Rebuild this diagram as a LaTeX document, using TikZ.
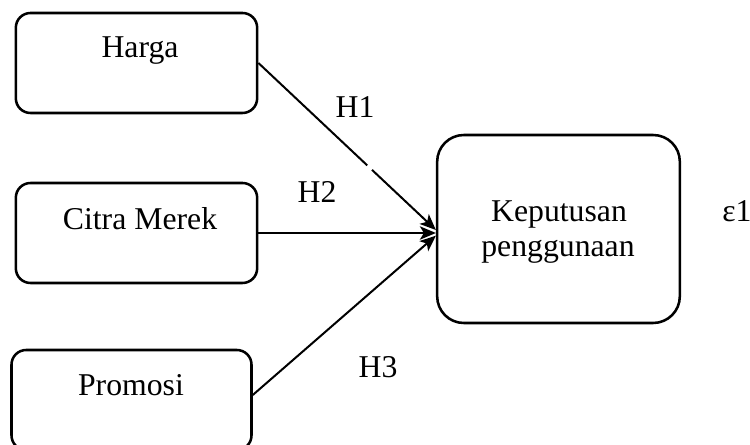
\documentclass[tikz,border=0pt]{standalone}
\usepackage{fontspec}
\setmainfont{Liberation Serif}
\usetikzlibrary{arrows.meta}
\begin{document}
\begin{tikzpicture}[x=0.75pt,y=-0.75pt,
  box/.style={draw=black,line width=1.9pt,rounded corners=11pt,inner sep=0pt},
  txt/.style={inner sep=0pt,anchor=base,font=\fontsize{23.8}{26}\selectfont},
  conn/.style={line width=1.5pt,-{Stealth[length=12pt,width=10pt,inset=3pt]}}]
\useasboundingbox (0,0) rectangle (750,445);
\node[box,minimum width=181pt,minimum height=75pt] (harga) at (136.5,63) {};
\node[box,minimum width=181pt,minimum height=75pt] (citra) at (136.5,233) {};
\node[box,minimum width=180pt,minimum height=75pt] (promosi) at (131.5,400) {};
\node[box,rounded corners=20pt,minimum width=182pt,minimum height=141pt] (kep) at (558.5,229) {};
\node[txt] (tharga) at (140,58) {Harga};
\node[txt] (tcitra) at (140,230) {Citra Merek};
\node[txt] (tpromosi) at (131,396) {Promosi};
\node[txt] (tkep1) at (559,222) {Keputusan};
\node[txt] (tkep2) at (558,257) {penggunaan};
\node[txt] (eps) at (737,222) {ε1};
\node[txt] (h1) at (355,118) {H1};
\node[txt] (h2) at (317,203) {H2};
\node[txt] (h3) at (378,378) {H3};
\draw[conn,dash pattern=on 112pt off 5pt on 400pt] (harga.east) -- ([yshift=-0.75pt]kep.west);
\draw[conn] ([yshift=0pt]citra.east) -- ([yshift=-3pt]kep.west);
\draw[conn] ([yshift=3.75pt]promosi.east) -- ([yshift=-5pt]kep.west);
\end{tikzpicture}
\end{document}
